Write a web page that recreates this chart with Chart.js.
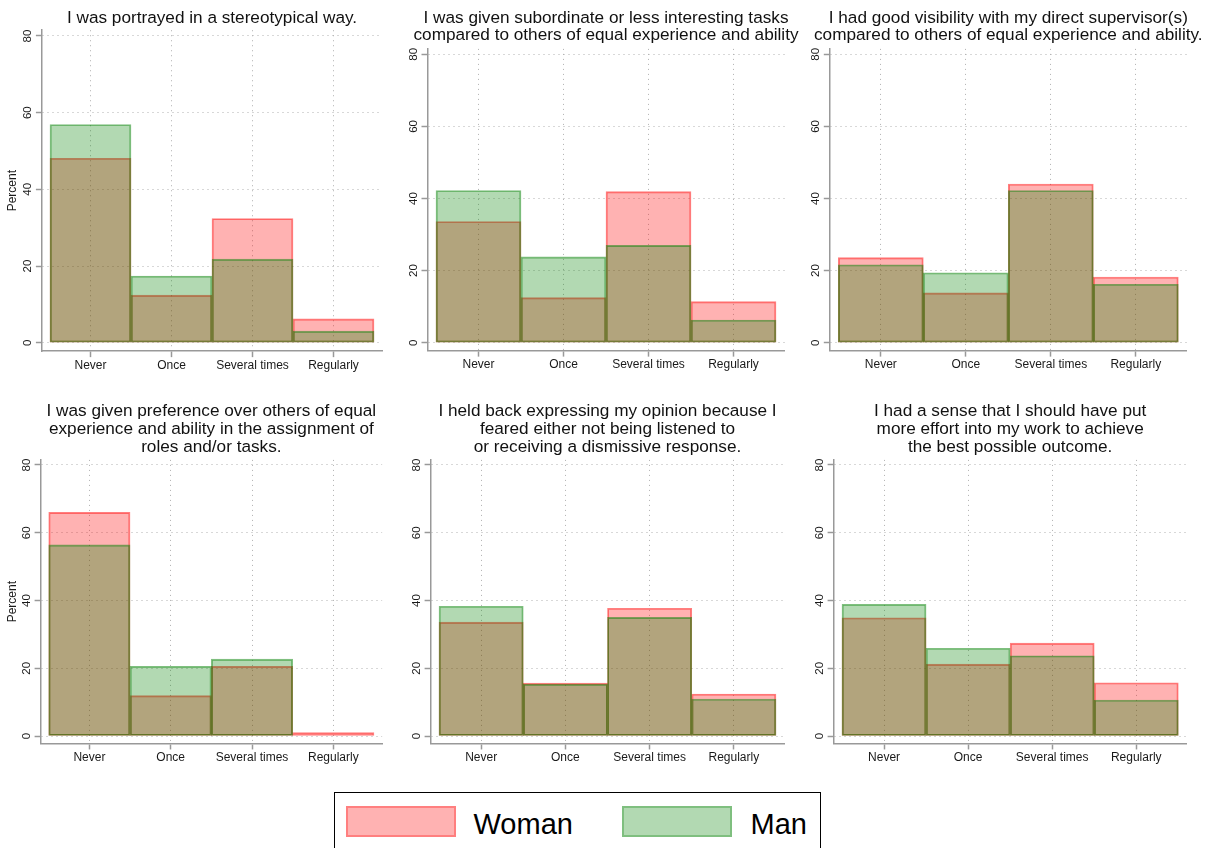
<!DOCTYPE html>
<html><head><meta charset="utf-8">
<script src="https://cdn.jsdelivr.net/npm/chart.js@4.4.1/dist/chart.umd.min.js"></script>
<style>
body{margin:0;background:#fff;width:1212px;height:848px;overflow:hidden;position:relative;font-family:"Liberation Sans",Arial,sans-serif;}
.panel{position:absolute;}
#legend{position:absolute;left:334px;top:792px;width:487px;height:70px;border:1.5px solid #000;box-sizing:border-box;background:#fff;}
.sw{position:absolute;top:12.5px;width:110px;height:31px;border:2px solid;box-sizing:border-box;background-clip:padding-box;}
.lt{position:absolute;font-size:29px;line-height:30px;top:15.5px;color:#000;}
</style></head><body>
<div id="legend">
  <div class="sw" style="left:10.5px;background-color:rgba(255,0,0,0.3);border-color:rgba(255,0,0,0.5)"></div>
  <div class="lt" style="left:138.5px">Woman</div>
  <div class="sw" style="left:287px;background-color:rgba(0,128,0,0.3);border-color:rgba(0,128,0,0.5)"></div>
  <div class="lt" style="left:415.5px">Man</div>
</div>
<script>
// ---- data ----
const categories = ['Never', 'Once', 'Several times', 'Regularly'];
const yTicks = [0, 20, 40, 60, 80];

const title1 = ['I was portrayed in a stereotypical way.'];
const title2 = ['I was given subordinate or less interesting tasks', 'compared to others of equal experience and ability'];
const title3 = ['I had good visibility with my direct supervisor(s)', 'compared to others of equal experience and ability.'];
const title4 = ['I was given preference over others of equal', 'experience and ability in the assignment of', 'roles and/or tasks.'];
const title5 = ['I held back expressing my opinion because I', 'feared either not being listened to', 'or receiving a dismissive response.'];
const title6 = ['I had a sense that I should have put', 'more effort into my work to achieve', 'the best possible outcome.'];

const woman1 = [48.1, 12.4, 32.4, 6.2];
const man1   = [56.9, 17.4, 21.8, 3.0];
const woman2 = [33.6, 12.5, 41.9, 11.4];
const man2   = [42.2, 23.8, 27.0, 6.3];
const woman3 = [23.6, 13.8, 44.0, 18.2];
const man3   = [21.6, 19.4, 42.2, 16.2];
const woman4 = [66.0, 11.9, 20.6, 1.0];
const man4   = [56.4, 20.6, 22.7, 0];
const woman5 = [33.6, 15.6, 37.7, 12.4];
const man5   = [38.3, 15.3, 35.0, 10.9];
const woman6 = [34.9, 21.2, 27.4, 15.7];
const man6   = [38.9, 25.9, 23.7, 10.6];

// ---- layout (page pixels) ----
const panels = [
  {title: title1, woman: woman1, man: man1, percent: true,  cx: 0,   cy: 0,   cw: 400, ch: 380, left: 41.9,  right: 382.1,  y0: 342.7, y80: 36,    tY: [18.3]},
  {title: title2, woman: woman2, man: man2, percent: false, cx: 395, cy: 0,   cw: 410, ch: 380, left: 427.5, right: 784.5,  y0: 342.7, y80: 54.3,  tY: [18.5, 35.3]},
  {title: title3, woman: woman3, man: man3, percent: false, cx: 805, cy: 0,   cw: 407, ch: 380, left: 829.8, right: 1186.8, y0: 342.7, y80: 54.3,  tY: [18.5, 35.3]},
  {title: title4, woman: woman4, man: man4, percent: true,  cx: 0,   cy: 385, cw: 400, ch: 395, left: 40.6,  right: 382.1,  y0: 736,   y80: 465,   tY: [411.7, 429.3, 447.3]},
  {title: title5, woman: woman5, man: man5, percent: false, cx: 395, cy: 385, cw: 410, ch: 395, left: 430.6, right: 784.4,  y0: 736,   y80: 465,   tY: [411.7, 429.3, 447.3]},
  {title: title6, woman: woman6, man: man6, percent: false, cx: 805, cy: 385, cw: 407, ch: 395, left: 833.6, right: 1186.7, y0: 736,   y80: 465,   tY: [411.7, 429.3, 447.3]}
];

const Y_MIN = -2.2, Y_MAX = 81.5;
const FONT = '"Liberation Sans", Arial, sans-serif';
const AXIS_COLOR = '#999999';
const GRID_COLOR = '#b0b0b0';
const TEXT_COLOR = '#1a1a1a';

const titlePlugin = {
  id: 'panelTitle',
  afterDraw(chart, args, opts) {
    const ctx = chart.ctx;
    const a = chart.chartArea;
    ctx.save();
    ctx.font = '17.2px ' + FONT;
    ctx.fillStyle = '#111';
    ctx.textAlign = 'center';
    ctx.textBaseline = 'middle';
    opts.lines.forEach((t, i) => ctx.fillText(t, (a.left + a.right) / 2, opts.ys[i]));
    ctx.restore();
  }
};

panels.forEach(p => {
  const wrap = document.createElement('div');
  wrap.className = 'panel';
  wrap.style.left = p.cx + 'px';
  wrap.style.top = p.cy + 'px';
  wrap.style.width = p.cw + 'px';
  wrap.style.height = p.ch + 'px';
  const cv = document.createElement('canvas');
  cv.width = p.cw; cv.height = p.ch;
  cv.style.width = p.cw + 'px'; cv.style.height = p.ch + 'px';
  wrap.appendChild(cv);
  document.body.appendChild(wrap);

  const unit = (p.y0 - p.y80) / 80;
  const top = p.y80 - (Y_MAX - 80) * unit;
  const bottom = p.y0 - Y_MIN * unit;

  const barOpts = {grouped: false, barPercentage: 1, categoryPercentage: 1, borderWidth: 1.2, borderSkipped: false};

  new Chart(cv, {
    type: 'bar',
    data: {
      datasets: [
        Object.assign({label: 'Woman', data: p.woman.map((v, i) => ({x: i + 1, y: v})),
          backgroundColor: 'rgba(255,0,0,0.3)', borderColor: 'rgba(255,0,0,0.5)', order: 2}, barOpts),
        Object.assign({label: 'Man', data: p.man.map((v, i) => ({x: i + 1, y: v})),
          backgroundColor: 'rgba(0,128,0,0.3)', borderColor: 'rgba(0,128,0,0.5)', order: 1}, barOpts)
      ]
    },
    options: {
      responsive: false,
      animation: false,
      devicePixelRatio: 1,
      layout: {padding: {top: top - p.cy, right: p.cx + p.cw - p.right, left: 0, bottom: 0}},
      plugins: {
        legend: {display: false},
        title: {display: false},
        tooltip: {enabled: false},
        panelTitle: {lines: p.title, ys: p.tY.map(y => y - p.cy)}
      },
      scales: {
        x: {
          type: 'linear', min: 0.4, max: 4.6, offset: false,
          afterBuildTicks: s => { s.ticks = categories.map((c, i) => ({value: i + 1})); },
          afterFit: s => { s.height = p.cy + p.ch - bottom; },
          ticks: {callback: v => categories[v - 1], font: {size: 12, family: FONT}, color: TEXT_COLOR, padding: 1, autoSkip: false, maxRotation: 0, minRotation: 0},
          grid: {offset: false, color: GRID_COLOR, lineWidth: 1, tickColor: AXIS_COLOR, tickLength: 6, tickWidth: 1.5, tickBorderDash: []},
          border: {color: AXIS_COLOR, width: 1.5, dash: [1, 4]}
        },
        y: {
          min: Y_MIN, max: Y_MAX,
          afterBuildTicks: s => { s.ticks = yTicks.map(v => ({value: v})); },
          afterFit: s => { s.width = p.left - p.cx; },
          ticks: {minRotation: 90, maxRotation: 90, crossAlign: 'center', padding: 1.5, font: {size: 11.5, family: FONT}, color: TEXT_COLOR},
          grid: {color: GRID_COLOR, lineWidth: 1, tickColor: AXIS_COLOR, tickLength: 6, tickWidth: 1.5, tickBorderDash: []},
          border: {color: AXIS_COLOR, width: 1.5, dash: [1, 4]},
          title: {display: p.percent, text: 'Percent', font: {size: 12, family: FONT}, color: TEXT_COLOR, padding: {top: 5.8, bottom: 0}}
        }
      }
    },
    plugins: [titlePlugin]
  });
});
</script>
</body></html>
